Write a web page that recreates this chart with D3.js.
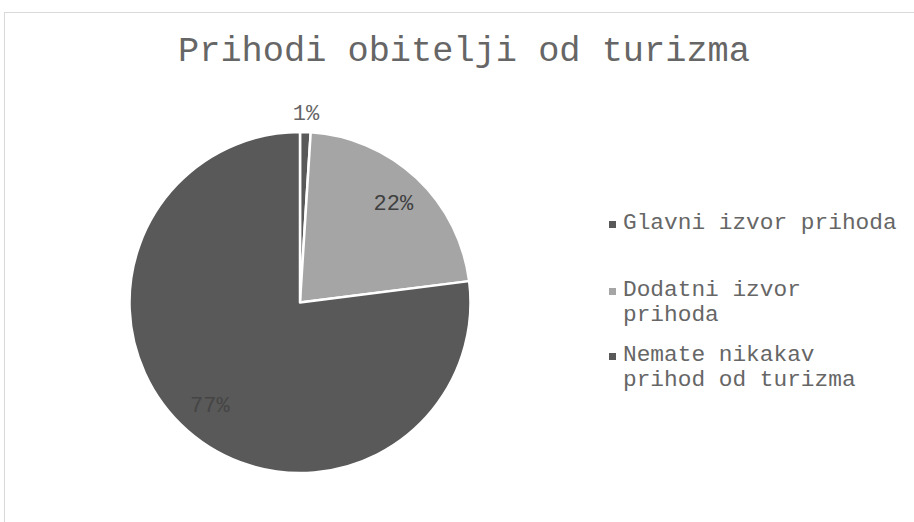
<!DOCTYPE html>
<html>
<head>
  <meta charset="utf-8">
  <title>Prihodi obitelji od turizma</title>
  <style>
    body { margin: 0; background: #fff; }
    svg { display: block; font-family: "Courier New", "Nimbus Mono PS", "FreeMono", "Liberation Mono", monospace; }
  </style>
  <script src="https://d3js.org/d3.v7.min.js"></script>
</head>
<body>
  <svg id="chart" width="914" height="522"></svg>
  <script>
    var categories = ["Glavni izvor prihoda", "Dodatni izvor prihoda", "Nemate nikakav prihod od turizma"];
    var values = [1, 22, 77];
    var colors = ["#595959", "#a5a5a5", "#595959"];
    var labelColors = ["#666666", "#404040", "#454545"];
    // legend wrapping as in the original
    var legendLines = [["Glavni izvor prihoda"], ["Dodatni izvor", "prihoda"], ["Nemate nikakav", "prihod od turizma"]];

    var width = 914, height = 522;
    var cx = 300, cy = 302.5, r = 170.5;

    var svg = d3.select("#chart");

    // chart area border
    svg.append("rect")
        .attr("x", 4.5).attr("y", 12.5)
        .attr("width", 1000).attr("height", 600)
        .attr("fill", "#fff")
        .attr("stroke", "#d9d9d9")
        .attr("stroke-width", 1);

    svg.append("text")
        .attr("x", 464).attr("y", 61)
        .attr("text-anchor", "middle")
        .attr("font-size", 35.3)
        .attr("fill", "#666666")
        .text("Prihodi obitelji od turizma");

    var pie = d3.pie().sort(null).value(d => d);
    var arcs = pie(values);
    var arc = d3.arc().innerRadius(0).outerRadius(r);

    var g = svg.append("g").attr("transform", "translate(" + cx + "," + cy + ")");

    g.selectAll("path")
        .data(arcs)
        .join("path")
        .attr("d", arc)
        .attr("fill", (d, i) => colors[i])
        .attr("stroke", "#fff")
        .attr("stroke-width", 2.5)
        .attr("stroke-linejoin", "round");

    var inner = d3.arc().innerRadius(r * 0.8).outerRadius(r * 0.8);
    var outer = d3.arc().innerRadius(r * 1.11).outerRadius(r * 1.11);

    g.selectAll("text.lbl")
        .data(arcs)
        .join("text")
        .attr("class", "lbl")
        .attr("transform", d => {
          var p = (d.data < 5 ? outer : inner).centroid(d);
          return "translate(" + p[0] + "," + p[1] + ")";
        })
        .attr("dy", "0.32em")
        .attr("text-anchor", "middle")
        .attr("font-size", 22)
        .attr("fill", (d, i) => labelColors[i])
        .text(d => d.data + "%");

    // legend
    var legendY = [229, 296, 361];
    var leg = svg.append("g");
    categories.forEach(function(c, i) {
      leg.append("rect")
          .attr("x", 609).attr("y", legendY[i] - 8)
          .attr("width", 7).attr("height", 7)
          .attr("fill", colors[i]);
      var t = leg.append("text")
          .attr("x", 623).attr("y", legendY[i])
          .attr("font-size", 22.8)
          .attr("fill", "#666666");
      legendLines[i].forEach(function(line, j) {
        t.append("tspan")
            .attr("x", 623)
            .attr("dy", j === 0 ? 0 : 25)
            .text(line);
      });
    });
  </script>
</body>
</html>
